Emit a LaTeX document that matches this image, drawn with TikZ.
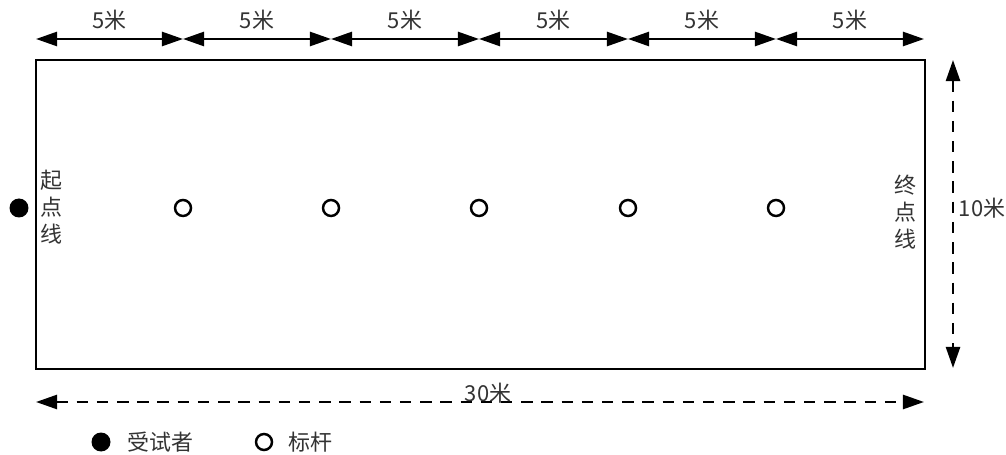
\documentclass[tikz,border=0pt]{standalone}
\usepackage{fontspec}
\newfontfamily\cjk{Noto Sans CJK SC}
\usetikzlibrary{arrows.meta,positioning}

\begin{document}
\begin{tikzpicture}[x=0.02cm,y=-0.02cm,>={Triangle[length=12pt,width=8pt]},
                    line width=1.5pt,font=\cjk\fontsize{12.5}{15.3}\selectfont,
                    pole/.style={circle,draw,line width=1.4pt,inner sep=0pt,minimum size=0.32cm},
                    runner/.style={circle,fill=black,inner sep=0pt,minimum size=0.38cm},
                    dim line/.style={<->,line width=1.4pt},
                    dash line/.style={<->,line width=1.4pt,dash pattern=on 6.5pt off 5pt},
                    lbl/.style={inner sep=1pt,text=black!80}]
  \useasboundingbox (0,0) rectangle (1006,455);

  % field
  \draw (36,60) rectangle (925,369);
  \node[align=center,lbl] (start) at (51,207) {起\\点\\线};
  \node[align=center,lbl] (finish) at (905,212) {终\\点\\线};

  % subject and poles
  \node[runner] (p0) at (19,208) {};
  \foreach \i/\x in {1/183,2/331,3/479,4/628,5/776}
    \node[pole] (p\i) at (\x,208) {};

  % top dimensions, 5m each
  \foreach \i/\x in {0/36,1/183,2/331,3/479,4/628,5/776,6/924}
    \coordinate (t\i) at (\x,39);
  \foreach \a/\b in {0/1,1/2,2/3,3/4,4/5,5/6}
    \draw[dim line] (t\a) -- node[lbl,above=3pt] {5米} (t\b);

  % 10m and 30m
  \coordinate (v1) at (953,60);
  \coordinate (v2) at (953,368);
  \draw[dash line] (v1) -- (v2);
  \node[lbl] (width) at (982,208) {10米};
  \coordinate (h1) at (36,402);
  \coordinate (h2) at (924,402);
  \draw[dash line] (h1) -- (h2);
  \node[lbl] (len) at (488,393) {30米};

  % legend
  \node[runner] (key1) at (101,442) {};
  \node[lbl,right=7pt of key1] (key1 text) {受试者};
  \node[pole] (key2) at (264,442) {};
  \node[lbl,right=7pt of key2] (key2 text) {标杆};
\end{tikzpicture}
\end{document}
